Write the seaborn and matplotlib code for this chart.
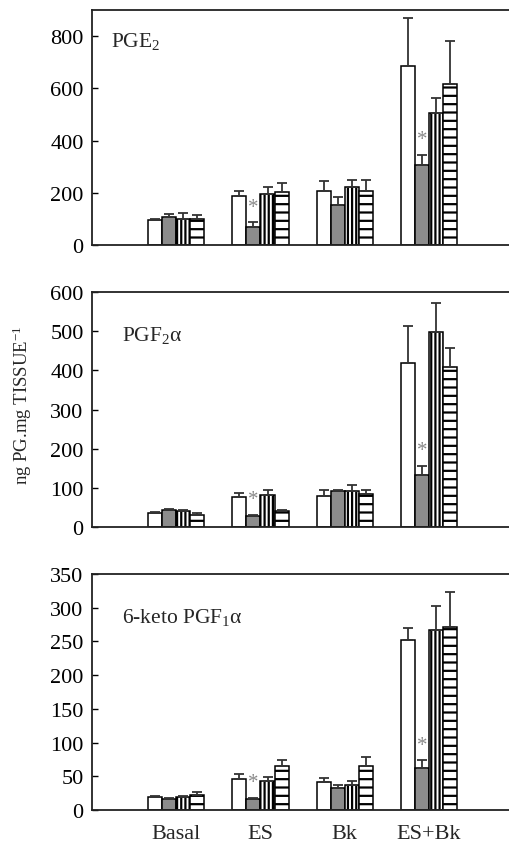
import numpy as np
import pandas as pd
import matplotlib
matplotlib.use("Agg")
import matplotlib.pyplot as plt
import seaborn as sns

groups = ["Basal", "ES", "Bk", "ES+Bk"]
series = ["s1", "s2", "s3", "s4"]

# means per group (4 series each) and top of error bar
pge2_mean = [[94, 108, 101, 101], [187, 69, 196, 203], [207, 153, 223, 207], [687, 305, 504, 615]]
pge2_top = [[98, 120, 122, 113], [205, 87, 222, 237], [244, 184, 247, 247], [870, 346, 564, 783]]

pgf2a_mean = [[37, 44, 41, 32], [77, 28, 81, 40], [79, 93, 91, 85], [419, 134, 498, 409]]
pgf2a_top = [[38, 47, 43, 36], [87, 31, 95, 43], [94, 95, 108, 95], [513, 157, 573, 458]]

keto_mean = [[20, 17, 20, 22], [46.5, 17, 43, 66], [41, 32, 37, 66], [251.5, 63, 267, 271]]
keto_top = [[21, 18, 21, 26], [53, 18, 49, 74], [47.5, 37, 43, 78], [270, 74, 302, 323]]

titles = ["PGE$_2$", "PGF$_2$α", "6-keto PGF$_1$α"]
ylims = [900, 600, 350]
yticks = [[0, 200, 400, 600, 800], [0, 100, 200, 300, 400, 500, 600], [0, 50, 100, 150, 200, 250, 300, 350]]
stars = [(1, 1), (3, 1)]  # (group index, series index) marked with *

sns.set_theme(style="ticks")
plt.rcParams["font.family"] = ["Liberation Serif", "DejaVu Serif"]
plt.rcParams["mathtext.fontset"] = "custom"
plt.rcParams["mathtext.rm"] = "Liberation Serif"
plt.rcParams["mathtext.it"] = "Liberation Serif:italic"
plt.rcParams["hatch.linewidth"] = 1.6
plt.rcParams["hatch.color"] = "black"

fig = plt.figure(figsize=(5.09, 8.45), dpi=100)
positions = [(0.7089, 0.2781), (0.3751, 0.2781), (0.0402, 0.2793)]
left = 92 / 509
fills = ["white", "#8c8c8c", "white", "white"]
hatches = [None, None, "||||", "--"]

for k, (means, tops) in enumerate([(pge2_mean, pge2_top), (pgf2a_mean, pgf2a_top), (keto_mean, keto_top)]):
    bottom, h = positions[k]
    ax = fig.add_axes([left, bottom, 1.0 - left, h])
    rows = []
    for gi, g in enumerate(groups):
        for si, s in enumerate(series):
            rows.append({"group": g, "series": s, "value": means[gi][si], "top": tops[gi][si]})
    df = pd.DataFrame(rows)
    sns.barplot(data=df, x="group", y="value", hue="series", order=groups, hue_order=series,
                palette=fills, errorbar=None, width=0.67, dodge=True, legend=False,
                edgecolor="black", linewidth=1.1, saturation=1, ax=ax)
    bar_conts = list(ax.containers)[:len(series)]
    for si, cont in enumerate(bar_conts):
        for gi, bar in enumerate(cont):
            if hatches[si]:
                bar.set_hatch(hatches[si])
            xc = bar.get_x() + bar.get_width() / 2
            m = means[gi][si]
            e = tops[gi][si] - m
            if e > 0:
                ax.errorbar([xc], [m], yerr=[[0], [e]], fmt="none", ecolor="#333333",
                            elinewidth=1.3, capsize=3.5, capthick=1.3, zorder=1)
            if (gi, si) in stars:
                ax.annotate("*", (xc, tops[gi][si]), xytext=(0, 4), textcoords="offset points",
                            ha="center", va="bottom", fontsize=15, color="#888888")
    ax.set_xlim(-1.0, 3.95)
    ax.set_ylim(0, ylims[k])
    ax.set_yticks(yticks[k])
    ax.set_xlabel("")
    ax.set_ylabel("")
    ax.tick_params(axis="y", direction="in", length=4, width=1, labelsize=16, pad=6, colors="black")
    ax.tick_params(axis="x", length=0, labelsize=16, pad=10)
    if k < 2:
        ax.set_xticklabels([])
    for sp in ["left", "bottom", "top"]:
        ax.spines[sp].set_linewidth(1.3)
        ax.spines[sp].set_color("#222222")
    ax.spines["right"].set_visible(False)
    ax.text(0.045 if k == 0 else 0.072, 0.87 if k == 0 else 0.82, titles[k], transform=ax.transAxes,
            fontsize=15.5, ha="left", va="center")

fig.text(22 / 509, 1 - 405 / 845, "ng PG.mg TISSUE$^{-1}$", rotation=90, ha="center", va="center", fontsize=13.5)
fig.savefig("out.png", dpi=100)
